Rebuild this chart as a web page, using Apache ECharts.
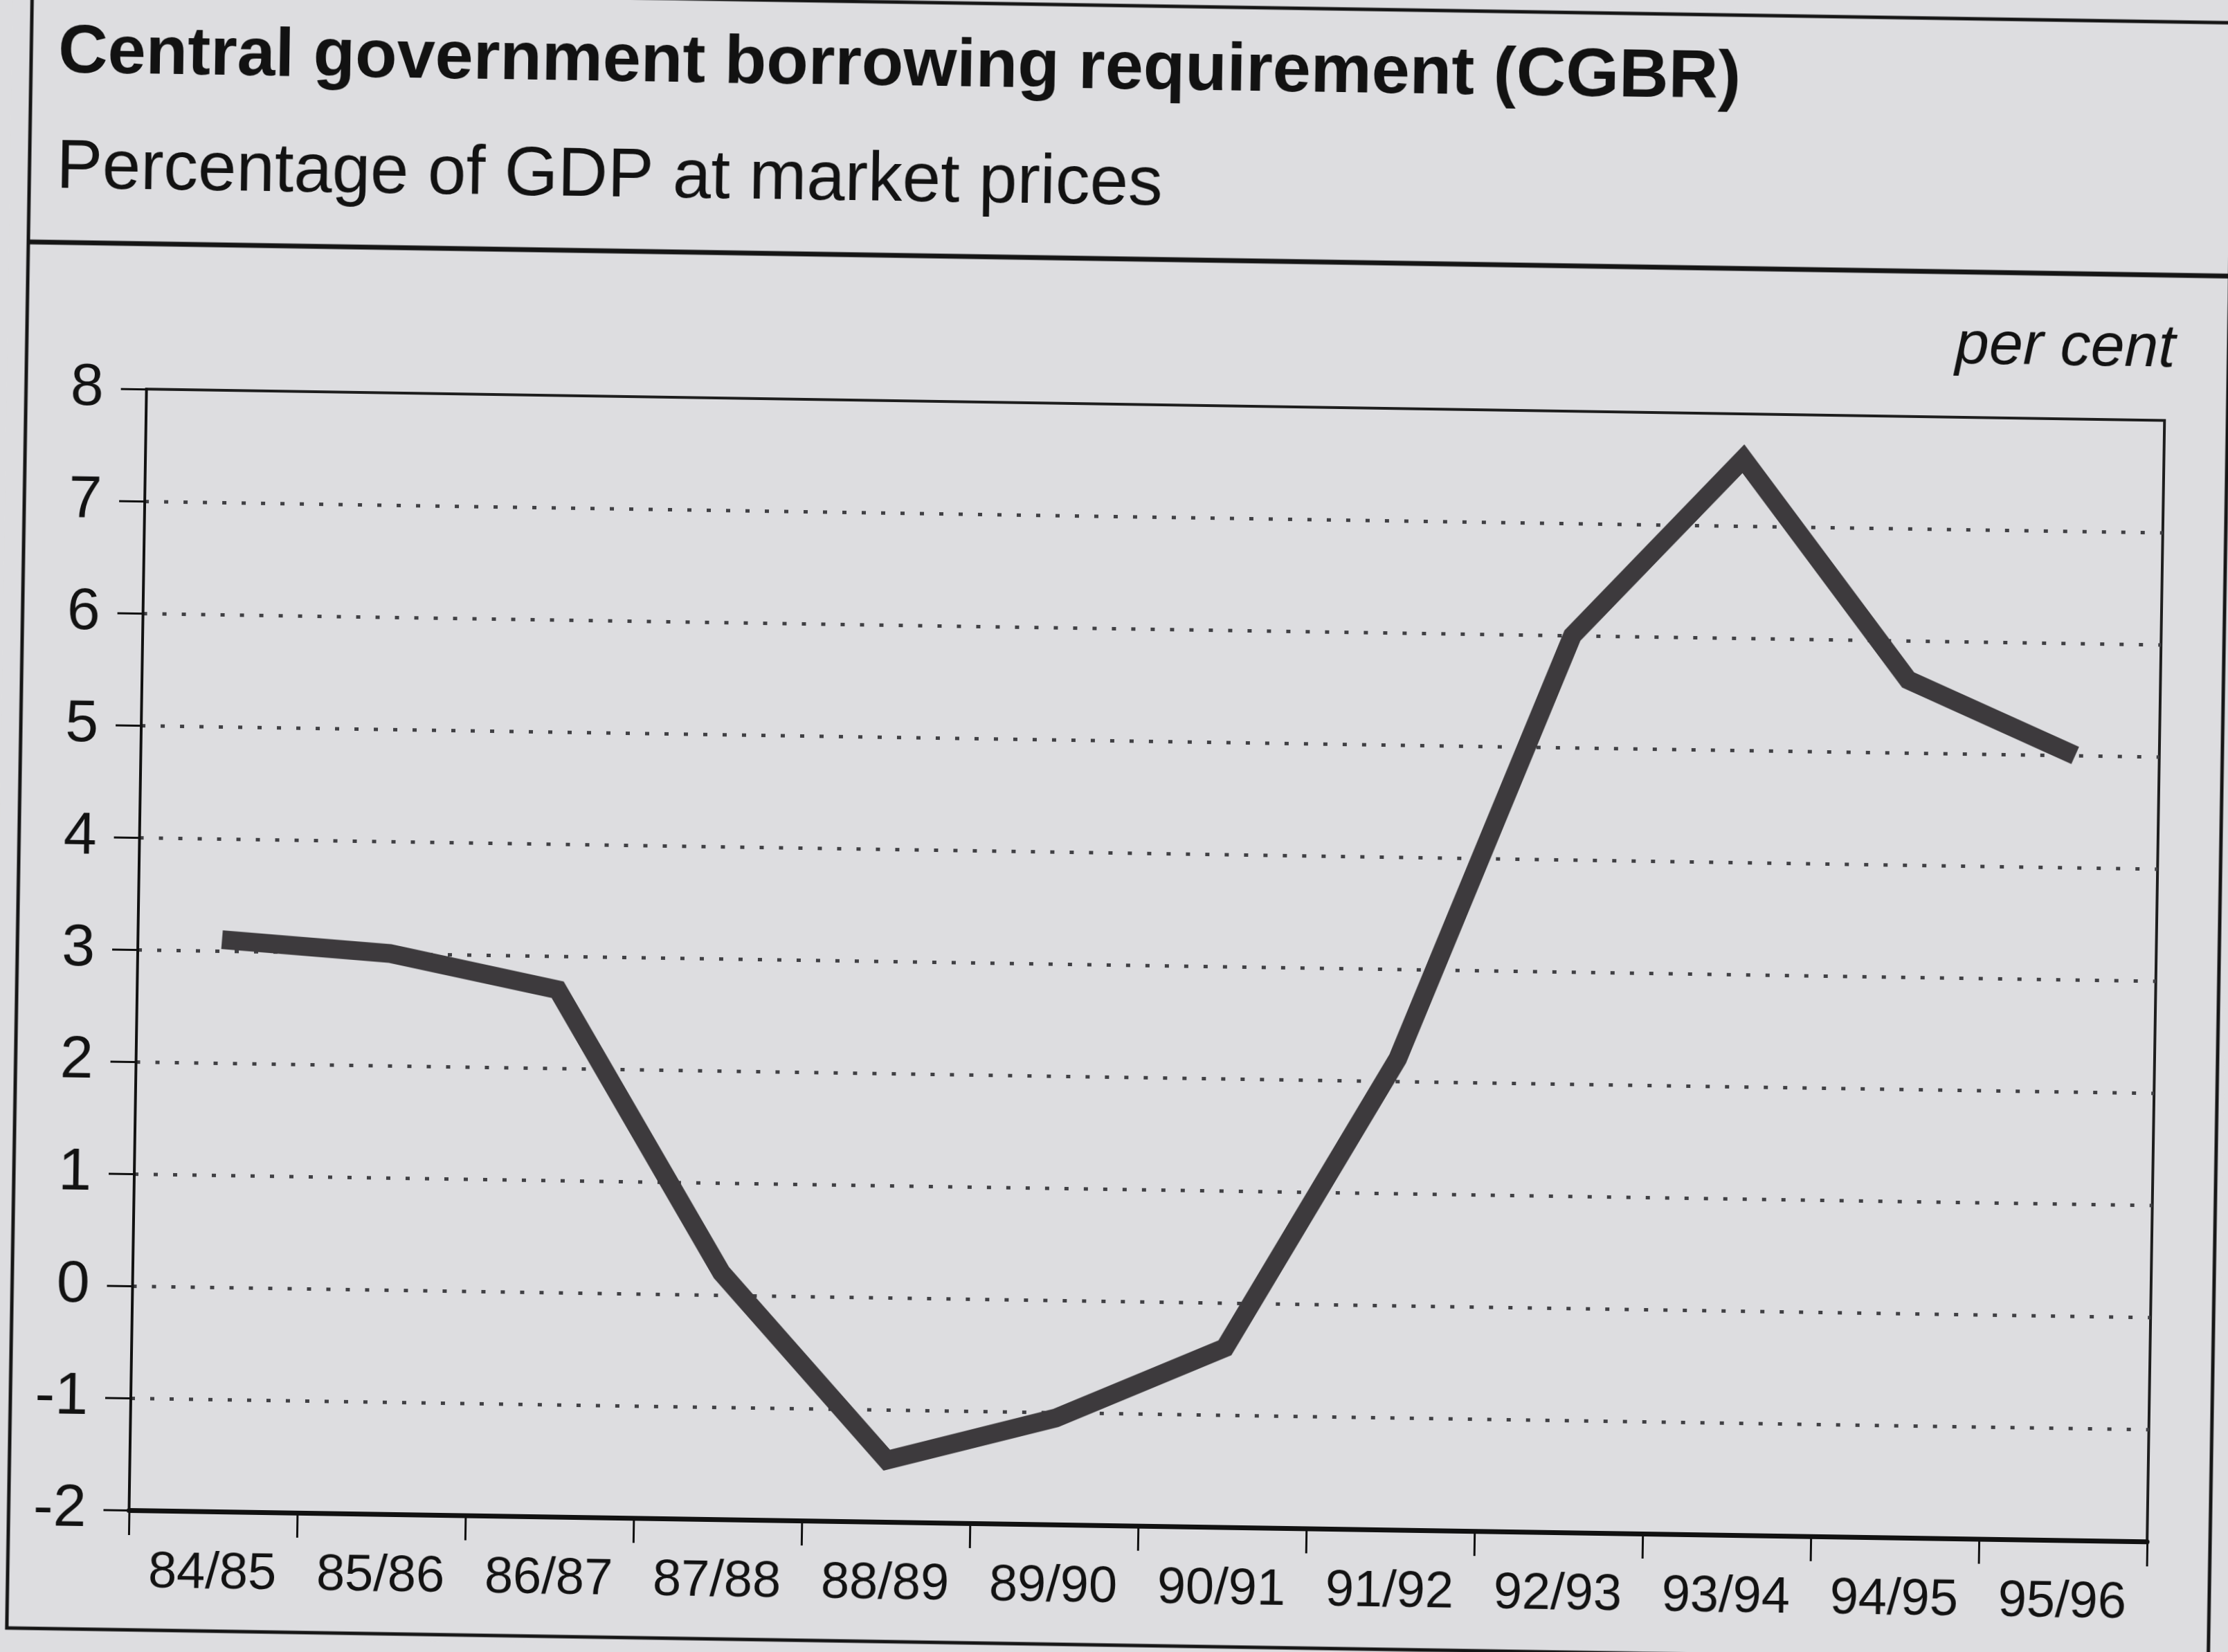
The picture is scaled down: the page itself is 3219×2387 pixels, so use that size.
<!DOCTYPE html>
<html>
<head>
<meta charset="utf-8">
<title>Central government borrowing requirement (CGBR)</title>
<script src="https://cdn.jsdelivr.net/npm/echarts@6/dist/echarts.min.js"></script>
<style>
  html, body { margin: 0; padding: 0; background: #dddde0; overflow: hidden; }
  #chart {
    width: 3219px; height: 2387px;
    /* the printed page sits slightly turned */
    transform: rotate(0.89deg);
    transform-origin: 50% 50%;
  }
</style>
</head>
<body>
<div id="chart"></div>
<script>
// Financial years on the horizontal axis
const years = ['84/85', '85/86', '86/87', '87/88', '88/89', '89/90',
               '90/91', '91/92', '92/93', '93/94', '94/95', '95/96'];
// CGBR as a percentage of GDP at market prices
const cgbr = [3.1, 3.0, 2.7, 0.2, -1.45, -1.05, -0.4, 2.2, 6.0, 7.6, 5.65, 5.0];
// Vertical scale
const yMin = -2, yMax = 8, yStep = 1;

const FONT = "'Liberation Sans', Arial, Helvetica, sans-serif";
const INK = '#121212';
const LINE = '#3d3a3d';

const chart = echarts.init(document.getElementById('chart'), null, { renderer: 'canvas' });

chart.setOption({
  backgroundColor: '#dddde0',
  animation: false,
  textStyle: { fontFamily: FONT, color: INK },
  title: [
    {
      text: 'Central government borrowing requirement (CGBR)',
      left: 62, top: 46,
      textStyle: { fontFamily: FONT, fontSize: 99, fontWeight: 'bold', color: INK }
    },
    {
      text: 'Percentage of GDP at market prices',
      left: 62, top: 213,
      textStyle: { fontFamily: FONT, fontSize: 99.5, fontWeight: 'normal', color: INK }
    },
    {
      text: 'per cent',
      right: 82, top: 433,
      textStyle: { fontFamily: FONT, fontSize: 88, fontWeight: 'normal', fontStyle: 'italic', color: INK }
    }
  ],
  grid: {
    left: 202, right: 101, top: 584, bottom: 183,
    show: true, borderColor: '#1e1e1e', borderWidth: 4,
    backgroundColor: 'transparent'
  },
  xAxis: {
    type: 'category',
    data: years,
    boundaryGap: true,
    axisLine: { show: true, onZero: false, lineStyle: { color: '#111', width: 7 } },
    axisTick: { show: true, inside: false, length: 36, lineStyle: { color: '#111', width: 3 } },
    axisLabel: { fontFamily: FONT, fontSize: 74, color: INK, margin: 54 },
    splitLine: { show: false }
  },
  yAxis: {
    type: 'value',
    min: yMin, max: yMax, interval: yStep,
    axisLine: { show: true, lineStyle: { color: '#111', width: 4 } },
    axisTick: { show: true, inside: false, length: 37, lineStyle: { color: '#111', width: 3 } },
    axisLabel: { fontFamily: FONT, fontSize: 86, color: INK, margin: 62 },
    splitLine: {
      show: true,
      showMinLine: false,
      showMaxLine: false,
      lineStyle: { color: '#404044', width: 5, type: [6, 22] }
    }
  },
  graphic: [
    // outer frame of the panel
    {
      type: 'rect', silent: true, z: 100,
      shape: { x: 28, y: 8, width: 3181, height: 2369 },
      style: { fill: 'none', stroke: '#151515', lineWidth: 5 }
    },
    // rule under the heading
    {
      type: 'line', silent: true, z: 100,
      shape: { x1: 28, y1: 374, x2: 3209, y2: 374 },
      style: { stroke: '#151515', lineWidth: 7 }
    }
  ],
  series: [
    {
      type: 'line',
      data: cgbr,
      symbol: 'none',
      clip: false,
      lineStyle: { color: LINE, width: 27, join: 'miter', cap: 'butt' },
      z: 5
    }
  ]
});
</script>
</body>
</html>
